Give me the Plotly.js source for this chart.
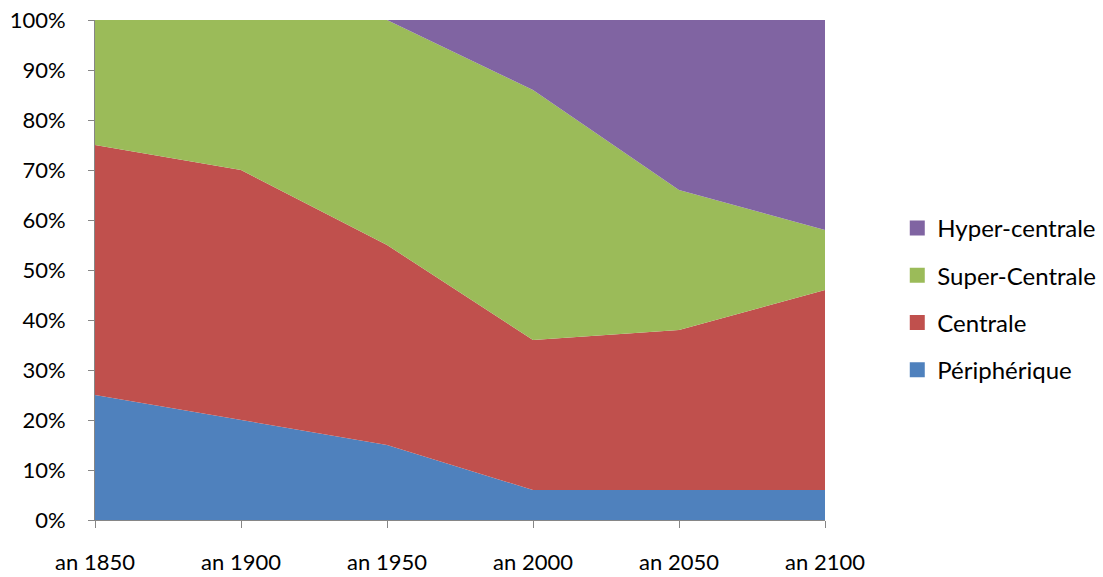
<!DOCTYPE html>
<html>
<head>
<meta charset="utf-8">
<script src="https://cdn.plot.ly/plotly-3.0.1.min.js"></script>
<style>html,body{margin:0;padding:0;background:#fff;}#chart{width:1103px;height:577px;}</style>
</head>
<body>
<div id="chart"></div>
<script>
var categories = ["an 1850", "an 1900", "an 1950", "an 2000", "an 2050", "an 2100"];
var peripherique = [25, 20, 15, 6, 6, 6];
var centrale = [50, 50, 40, 30, 32, 40];
var superCentrale = [25, 30, 45, 50, 28, 12];
var hyperCentrale = [0, 0, 0, 14, 34, 42];
var yTickVals = [0, 10, 20, 30, 40, 50, 60, 70, 80, 90, 100];
var yTickText = yTickVals.map(function (v) { return v + "%"; });

var seriesNames = ["Périphérique", "Centrale", "Super-Centrale", "Hyper-centrale"];
var seriesValues = [peripherique, centrale, superCentrale, hyperCentrale];
var seriesColors = ["#4F81BD", "#C0504D", "#9BBB59", "#8064A2"];

var traces = [];
seriesValues.forEach(function (vals, i) {
  traces.push({
    x: categories, y: vals, type: "scatter", mode: "lines",
    stackgroup: "one", line: {width: 0}, fillcolor: seriesColors[i],
    name: seriesNames[i], showlegend: false, hoverinfo: "x+y+name"
  });
});
// legend entries, top to bottom: Hyper, Super, Centrale, Périphérique
for (var i = seriesNames.length - 1; i >= 0; i--) {
  traces.push({
    x: [null], y: [null], type: "scatter", mode: "markers",
    marker: {symbol: "square", size: 15, color: seriesColors[i]},
    name: seriesNames[i], legendgroup: "g" + i, showlegend: true
  });
}

var fontFam = "Lato, 'Noto Sans', sans-serif";
var layout = {
  width: 1103, height: 577,
  margin: {l: 95, r: 278, t: 20, b: 57, pad: 0, autoexpand: false},
  paper_bgcolor: "#fff", plot_bgcolor: "#fff",
  showlegend: true,
  font: {family: fontFam, size: 22, color: "#000"},
  xaxis: {
    type: "category", range: [0, 5], showgrid: false, zeroline: false,
    showline: true, linecolor: "#868686", linewidth: 1,
    ticks: "outside", ticklen: 7, tickcolor: "#868686", tickwidth: 1,
    ticklabelstandoff: 16, automargin: false,
    tickfont: {family: fontFam, size: 22, color: "#000"}
  },
  yaxis: {
    range: [0, 100], tickmode: "array", tickvals: yTickVals, ticktext: yTickText,
    showgrid: false, zeroline: false, automargin: false,
    showline: true, linecolor: "#868686", linewidth: 1,
    ticks: "outside", ticklen: 6, tickcolor: "#868686", tickwidth: 1,
    ticklabelstandoff: 18,
    tickfont: {family: fontFam, size: 22, color: "#000"}
  },
  legend: {
    x: 1.099, xanchor: "left", y: 0.442, yanchor: "middle",
    traceorder: "grouped", tracegroupgap: 13,
    font: {family: fontFam, size: 24, color: "#000"},
    itemwidth: 30, bgcolor: "rgba(0,0,0,0)"
  }
};

Plotly.newPlot("chart", traces, layout, {displayModeBar: false, staticPlot: true});
</script>
</body>
</html>
